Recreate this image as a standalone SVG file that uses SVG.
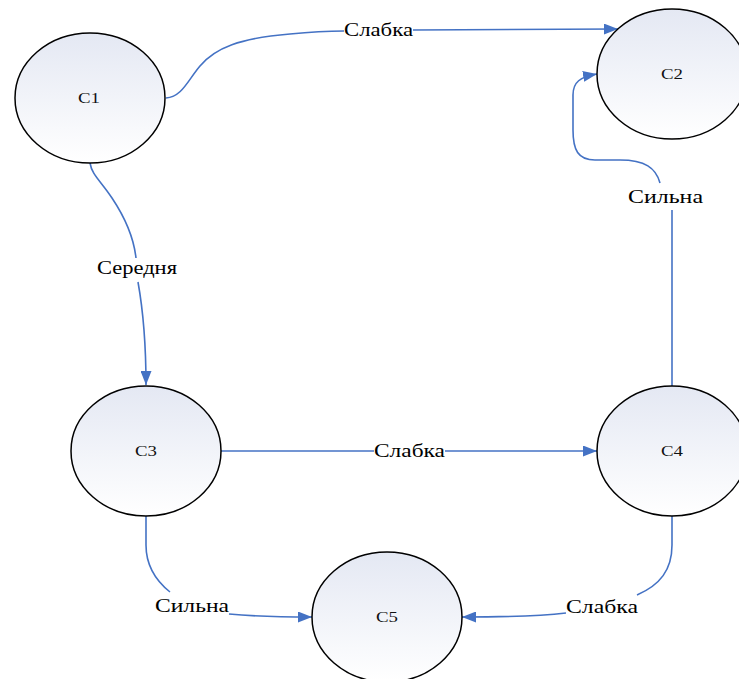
<svg xmlns="http://www.w3.org/2000/svg" width="739" height="679" viewBox="0 0 739 679">
<style>
.node ellipse{fill:url(#g);stroke:#000;stroke-width:1.5}
.node text{font-family:"Liberation Serif","Times New Roman",serif;font-size:14px;fill:#111;text-anchor:middle}
.edge{fill:none;stroke:#4472c4;stroke-width:1.6}
.lbl{font-family:"Liberation Serif","Times New Roman",serif;font-size:18px;fill:#000}
</style>
<defs>
<linearGradient id="g" x1="0" y1="0" x2="0" y2="1">
<stop offset="0" stop-color="#e4e8f3"/>
<stop offset="1" stop-color="#ffffff"/>
</linearGradient>
<marker id="b" viewBox="0 0 14 11" refX="14" refY="5.5" markerWidth="14" markerHeight="11" markerUnits="userSpaceOnUse" orient="auto">
<path d="M0,0 L14,5.5 L0,11 z" fill="#4472c4"/>
</marker>
</defs>
<rect width="739" height="679" fill="#fff"/>
<g id="connectors">
<path class="edge" d="M166,98 C182,97 188,80 200,66 C215,48 240,38 290,34 C310,32 325,31 344,31"/>
<path class="edge" d="M413,30 L618,29" marker-end="url(#b)"/>
<path class="edge" d="M90,163 C92,175 100,180 112,198 C128,222 134,240 136,258"/>
<path class="edge" d="M138,282 C143,310 146,340 146,385" marker-end="url(#b)"/>
<path class="edge" d="M672,386 L672,210"/>
<path class="edge" d="M660,183 C656,168 645,160 620,160 L595,160 C578,160 573,150 573,130 L573,95 C573,82 580,77 597,74" marker-end="url(#b)"/>
<path class="edge" d="M221,451 L374,451"/>
<path class="edge" d="M445,451 L597,451" marker-end="url(#b)"/>
<path class="edge" d="M146,516 L146,545 C146,565 155,580 170,592"/>
<path class="edge" d="M229,614 C250,616 270,617 312,617" marker-end="url(#b)"/>
<path class="edge" d="M672,516 L672,545 C672,570 660,585 637,595"/>
<path class="edge" d="M566,613 C540,616 510,617 462,617" marker-end="url(#b)"/>
</g>
<g id="labels">
<text class="lbl" x="344" y="36" textLength="69" lengthAdjust="spacingAndGlyphs">Слабка</text>
<text class="lbl" x="97" y="274" textLength="80" lengthAdjust="spacingAndGlyphs">Середня</text>
<text class="lbl" x="628" y="203" textLength="75" lengthAdjust="spacingAndGlyphs">Сильна</text>
<text class="lbl" x="374" y="457" textLength="71" lengthAdjust="spacingAndGlyphs">Слабка</text>
<text class="lbl" x="155" y="612" textLength="74" lengthAdjust="spacingAndGlyphs">Сильна</text>
<text class="lbl" x="566" y="613" textLength="72" lengthAdjust="spacingAndGlyphs">Слабка</text>
</g>
<g id="C1" class="node"><ellipse cx="90" cy="98" rx="75" ry="65"/><text x="89" y="103" textLength="22" lengthAdjust="spacingAndGlyphs">C1</text></g>
<g id="C2" class="node"><ellipse cx="672" cy="74" rx="75" ry="65"/><text x="672" y="79" textLength="22" lengthAdjust="spacingAndGlyphs">C2</text></g>
<g id="C3" class="node"><ellipse cx="146" cy="451" rx="75" ry="65"/><text x="146" y="456" textLength="22" lengthAdjust="spacingAndGlyphs">C3</text></g>
<g id="C4" class="node"><ellipse cx="672" cy="451" rx="75" ry="65"/><text x="672" y="456" textLength="22" lengthAdjust="spacingAndGlyphs">C4</text></g>
<g id="C5" class="node"><ellipse cx="387" cy="617" rx="75" ry="65"/><text x="387" y="622" textLength="22" lengthAdjust="spacingAndGlyphs">C5</text></g>
</svg>
